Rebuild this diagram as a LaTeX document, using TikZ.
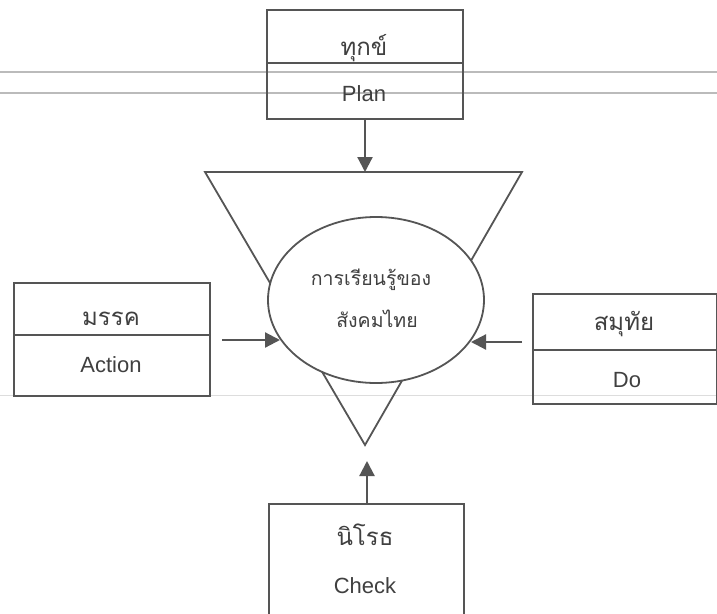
\documentclass[tikz,border=0pt]{standalone}
\usepackage{fontspec}
\setmainfont{Liberation Sans}
\newfontfamily\thaifont[Script=Thai]{Loma}
\usetikzlibrary{arrows.meta,shapes.geometric}
\definecolor{ink}{HTML}{555555}
\definecolor{txt}{HTML}{404040}
\definecolor{rule}{HTML}{BBBBBB}
\begin{document}
\begin{tikzpicture}[x=1pt,y=-1pt,
  boxshape/.style={draw=ink, line width=1.8pt, inner sep=0pt, anchor=north west},
  divline/.style={draw=ink, line width=1.6pt},
  entext/.style={text=txt, anchor=base, font=\fontsize{22}{26}\selectfont},
  thtext/.style={text=txt, anchor=base, font=\thaifont\fontsize{24}{28}\selectfont},
  midtext/.style={text=txt, anchor=base, font=\thaifont\fontsize{19.5}{23}\selectfont},
  arr/.style={draw=ink, line width=2.2pt, -{Triangle[width=15pt,length=15pt]}},
  paperline/.style={draw=rule, line width=1.1pt}]
\useasboundingbox (0,0) rectangle (717,613);
\clip (0,0) rectangle (717,613);
\fill[white] (0,0) rectangle (717,613);
% faint ruled lines of the page
\draw[paperline] (0,72) -- (717,72);
\draw[paperline] (0,93) -- (717,93);
\draw[draw=rule!50, line width=1pt] (0,395) -- (717,395);
% inverted triangles
\coordinate (tl) at (205,172);
\coordinate (tr) at (522,172);
\coordinate (tb) at (365,445);
\coordinate (ttop) at (365,172);
\draw[draw=ink, line width=1.8pt, line join=miter] (tl) -- (tr) -- (tb) -- cycle;
% central ellipse
\node[ellipse, draw=ink, fill=white, line width=1.8pt, minimum width=216pt, minimum height=166pt, inner sep=0pt] (learn) at (376,300) {};
\node[midtext] (l1) at (371,285) {การเรียนรู้ของ};
\node[midtext] (l2) at (377,327) {สังคมไทย};
% top box: Plan
\node[boxshape, minimum width=196pt, minimum height=109pt] (plan) at (266,9) {};
\draw[divline] (plan.west |- 0,63) -- (plan.east |- 0,63);
\node[thtext] (t1) at (364,55) {ทุกข์};
\node[entext] (t2) at (364,101) {Plan};
% left box: Action
\node[boxshape, minimum width=196pt, minimum height=113pt] (action) at (13,282) {};
\draw[divline] (action.west |- 0,335) -- (action.east |- 0,335);
\node[thtext] (a1) at (111,325) {มรรค};
\node[entext] (a2) at (111,372) {Action};
% right box: Do
\node[boxshape, minimum width=184pt, minimum height=110pt] (do) at (532,293) {};
\draw[divline] (do.west |- 0,350) -- (do.east |- 0,350);
\node[thtext] (d1) at (624,330) {สมุทัย};
\node[entext] (d2) at (627,387) {Do};
% bottom box: Check
\node[boxshape, minimum width=195pt, minimum height=140pt] (check) at (268,503) {};
\node[thtext] (c1) at (365,545) {นิโรธ};
\node[entext] (c2) at (365,593) {Check};
% arrows
\coordinate (aS) at (222,340);
\coordinate (aE) at (280,340);
\coordinate (dS) at (522,342);
\coordinate (dE) at (471,342);
\coordinate (cS) at (367,503);
\coordinate (cE) at (367,461);
\draw[arr] (plan.south -| ttop) -- (ttop);
\draw[arr] (aS) -- (aE);
\draw[arr] (dS) -- (dE);
\draw[arr] (cS) -- (cE);
\end{tikzpicture}
\end{document}
